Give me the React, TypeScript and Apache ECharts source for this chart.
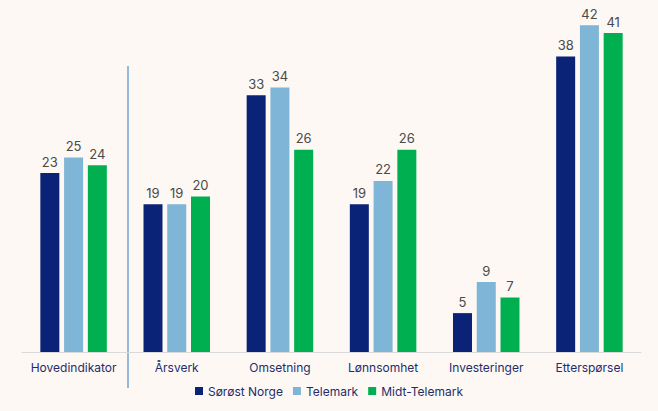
import React, { useEffect, useRef } from "react";
import * as echarts from "echarts";

const categories = ["Hovedindikator", "Årsverk", "Omsetning", "Lønnsomhet", "Investeringer", "Etterspørsel"];
const sorostNorge = [23, 19, 33, 19, 5, 38];
const telemark = [25, 19, 34, 22, 9, 42];
const midtTelemark = [24, 20, 26, 26, 7, 41];

export default function App() {
  const ref = useRef<HTMLDivElement>(null);
  useEffect(() => {
    const chart = echarts.init(ref.current!, null, { renderer: "svg" });
    const label = { show: true, position: "top", color: "#4a4a4a", fontSize: 13, fontFamily: "Inter", distance: 5 };
    chart.setOption({
      animation: false,
      backgroundColor: "#fdf8f4",
      textStyle: { fontFamily: "Inter" },
      grid: { left: 22, right: 17, top: 2, bottom: 59, containLabel: false },
      legend: {
        bottom: 9,
        left: "center",
        itemWidth: 8,
        itemHeight: 8,
        itemGap: 10,
        icon: "rect",
        textStyle: { color: "#1f2d6b", fontSize: 12, fontFamily: "Inter" },
        data: ["Sørøst Norge", "Telemark", "Midt-Telemark"],
      },
      xAxis: {
        type: "category",
        data: categories,
        axisLine: { lineStyle: { color: "#d9d9d9" } },
        axisTick: { show: false },
        axisLabel: { color: "#1f2d6b", fontSize: 12, margin: 9, fontFamily: "Inter", interval: 0 },
      },
      yAxis: {
        type: "value",
        min: 0,
        max: 45,
        show: false,
        splitLine: { show: false },
      },
      graphic: [
        {
          type: "line",
          shape: { x1: 128, y1: 66, x2: 128, y2: 388 },
          style: { stroke: "#4f8fc8", lineWidth: 1.2 },
        },
      ],
      series: [
        { name: "Sørøst Norge", type: "bar", data: sorostNorge, barWidth: 19, barGap: "25%", itemStyle: { color: "#0b2377" }, label },
        { name: "Telemark", type: "bar", data: telemark, barWidth: 19, barGap: "25%", itemStyle: { color: "#7fb5d6" }, label },
        { name: "Midt-Telemark", type: "bar", data: midtTelemark, barWidth: 19, barGap: "25%", itemStyle: { color: "#00b050" }, label },
      ],
    });
    return () => chart.dispose();
  }, []);
  return <div ref={ref} style={{ width: 658, height: 411, position: "fixed", left: 0, top: 0 }} />;
}
